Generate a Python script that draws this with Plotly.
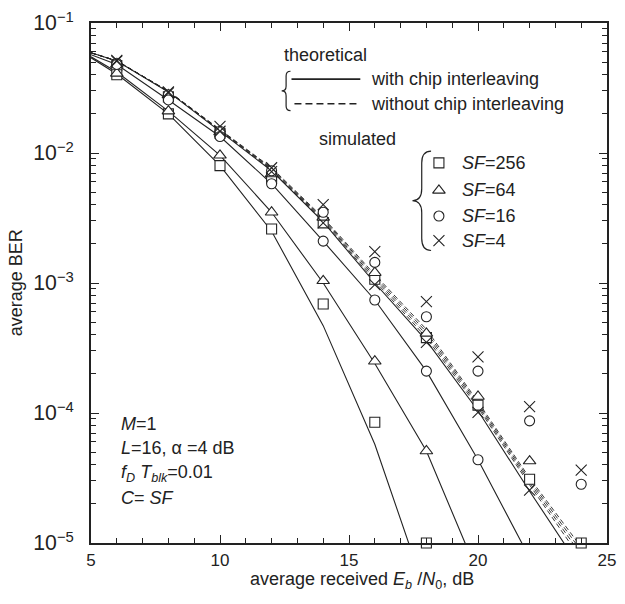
import plotly.graph_objects as go

# ---------------- data ----------------
x_theory = [5, 6, 8, 10, 12, 14, 16, 18, 20, 22, 24]
# theoretical, with chip interleaving (solid)
th_with_sf256 = [0.054, 0.0405, 0.0200, 0.0080, 0.0025, 0.00047, 0.0000575, 0.000004, None, None, None]
th_with_sf64 = [0.055, 0.042, 0.0210, 0.0096, 0.0035, 0.00100, 0.00024, 0.000051, 0.0000058, None, None]
th_with_sf16 = [0.057, 0.048, 0.0256, 0.0134, 0.0058, 0.0021, 0.00074, 0.00021, 0.0000437, 0.0000077, None]
th_with_sf4 = [0.059, 0.051, 0.0295, 0.0147, 0.0073, 0.00295, 0.00100, 0.00036, 0.000104, 0.0000250, 0.0000063]
# theoretical, without chip interleaving (dashed)
th_wo_sf256 = [0.059, 0.051, 0.0296, 0.0148, 0.0074, 0.00300, 0.00104, 0.00038, 0.000110, 0.0000280, 0.0000075]
th_wo_sf64 = [0.059, 0.051, 0.0297, 0.0149, 0.0075, 0.00306, 0.00108, 0.00040, 0.000114, 0.0000292, 0.0000081]
th_wo_sf16 = [0.059, 0.0512, 0.0298, 0.0150, 0.0076, 0.00312, 0.00112, 0.00042, 0.000118, 0.0000304, 0.0000087]
th_wo_sf4 = [0.059, 0.0512, 0.0299, 0.0151, 0.0077, 0.00318, 0.00116, 0.00044, 0.000122, 0.0000316, 0.0000093]

x_sim = [6, 8, 10, 12, 14, 16, 18, 20, 22, 24]
# simulated, with chip interleaving
sim_with_sf256 = [0.040, 0.0200, 0.0080, 0.0026, 0.00069, 0.000085, 0.00001, None, None, None]
sim_with_sf64 = [0.041, 0.0210, 0.0096, 0.0035, 0.00104, 0.00025, 0.000051, None, None, None]
sim_with_sf16 = [0.048, 0.0256, 0.0134, 0.0058, 0.0021, 0.00074, 0.00021, 0.0000437, None, None]
sim_with_sf4 = [0.051, 0.0290, 0.0147, 0.0072, 0.0029, 0.00097, 0.00035, 0.000101, 0.0000255, None]
# simulated, without chip interleaving
sim_wo_sf256 = [0.047, 0.0270, 0.0142, 0.0064, 0.0029, 0.00107, 0.00038, 0.000115, 0.0000309, 0.00001]
sim_wo_sf64 = [0.048, 0.0280, 0.0145, 0.0069, 0.0032, 0.00120, 0.00041, 0.000134, 0.0000427, None]
sim_wo_sf16 = [0.049, 0.0280, 0.0147, 0.0073, 0.0035, 0.00144, 0.00055, 0.00021, 0.000087, 0.0000283]
sim_wo_sf4 = [0.0515, 0.0295, 0.0160, 0.0077, 0.0040, 0.00174, 0.00072, 0.00027, 0.000112, 0.0000363]

sf_labels = ["<i>SF</i>=256", "<i>SF</i>=64", "<i>SF</i>=16", "<i>SF</i>=4"]

# ---------------- layout geometry ----------------
W, H = 625, 604
L, R, T, B = 91, 9, 15, 61
PW, PH = W - L - R, H - T - B
INK = "#222222"
FONT = "Liberation Sans, Arial, Helvetica, sans-serif"
FS = 18
TFS = 17


def px(x):
    return (x - L) / PW


def py(y):
    return (H - B - y) / PH


fig = go.Figure()

solid = [th_with_sf256, th_with_sf64, th_with_sf16, th_with_sf4]
dashed = [th_wo_sf256, th_wo_sf64, th_wo_sf16, th_wo_sf4]
for ys in dashed:
    fig.add_trace(go.Scatter(x=x_theory, y=ys, mode="lines",
                             line=dict(color=INK, width=0.9, dash="5px,3px"),
                             showlegend=False, hoverinfo="skip"))
for ys in solid:
    fig.add_trace(go.Scatter(x=x_theory, y=ys, mode="lines",
                             line=dict(color=INK, width=1.1),
                             showlegend=False, hoverinfo="skip"))

symbols = ["square", "triangle-up", "circle", "x-thin"]
sizes = [10, 11, 10, 11]
sim_sets = [
    (sim_with_sf256, sim_wo_sf256),
    (sim_with_sf64, sim_wo_sf64),
    (sim_with_sf16, sim_wo_sf16),
    (sim_with_sf4, sim_wo_sf4),
]


def mk(sym, size):
    if sym == "x-thin":
        return dict(symbol=sym, size=size, color=INK, line=dict(color=INK, width=1.1))
    return dict(symbol=sym, size=size, color="white", line=dict(color=INK, width=1.1))


for (w, wo), sym, sz in zip(sim_sets, symbols, sizes):
    for ys in (wo, w):
        fig.add_trace(go.Scatter(x=x_sim, y=ys, mode="markers", marker=mk(sym, sz),
                                 cliponaxis=False, showlegend=False, hoverinfo="skip"))

# legend glyphs on an overlay axis in [0,1] paper-like units
leg_x = px(445)
leg_ys = [py(157), py(185), py(211), py(236)]
for sym, sz, yy in zip(symbols, sizes, leg_ys):
    fig.add_trace(go.Scatter(x=[leg_x], y=[yy], mode="markers", marker=mk(sym, sz),
                             xaxis="x2", yaxis="y2", showlegend=False, hoverinfo="skip"))

shapes = []
# legend line samples
shapes.append(dict(type="line", xref="paper", yref="paper", x0=px(295), x1=px(365),
                   y0=py(72), y1=py(72), line=dict(color=INK, width=1.8)))
shapes.append(dict(type="line", xref="paper", yref="paper", x0=px(298), x1=px(365),
                   y0=py(97), y1=py(97), line=dict(color=INK, width=1.6, dash="7px,4px")))


def brace(tipx, endx, top, bot):
    mid = (top + bot) / 2
    hx = (tipx + endx) / 2
    h = bot - top
    pts = [
        f"M {px(endx):.5f},{py(top):.5f}",
        f"Q {px(hx):.5f},{py(top):.5f} {px(hx):.5f},{py(top + h*0.12):.5f}",
        f"L {px(hx):.5f},{py(mid - h*0.12):.5f}",
        f"Q {px(hx):.5f},{py(mid):.5f} {px(tipx):.5f},{py(mid):.5f}",
        f"Q {px(hx):.5f},{py(mid):.5f} {px(hx):.5f},{py(mid + h*0.12):.5f}",
        f"L {px(hx):.5f},{py(bot - h*0.12):.5f}",
        f"Q {px(hx):.5f},{py(bot):.5f} {px(endx):.5f},{py(bot):.5f}",
    ]
    return dict(type="path", xref="paper", yref="paper", path=" ".join(pts),
                line=dict(color=INK, width=1.2))


shapes.append(brace(285, 294, 64, 104))
shapes.append(brace(418, 437, 145, 246))

annotations = []


def txt(text, x, y, size=FS, xanchor="left", **kw):
    annotations.append(dict(text=text, x=px(x), y=py(y), xref="paper", yref="paper",
                            xanchor=xanchor, yanchor="middle", showarrow=False,
                            font=dict(size=size, color=INK, family=FONT), **kw))


txt("theoretical", 285, 47)
txt("with chip interleaving", 374, 72)
txt("without chip interleaving", 374, 97)
txt("simulated", 321, 133)
for lab, yy in zip(sf_labels, [157, 185, 211, 236]):
    txt(lab, 466, yy)

txt("<i>M</i>=1", 119, 422)
txt("<i>L</i>=16, α =4 dB", 119, 447)
txt("<i>f</i><sub><i>D</i></sub> <i>T</i><sub><i>blk</i></sub>=0.01", 119, 472)
txt("<i>C</i>= <i>SF</i>", 119, 497)

# axis titles
txt("average received <i>E</i><sub><i>b</i></sub> /<i>N</i><sub>0</sub>, dB", 367, 581, xanchor="center")
txt("average BER", 15, 279, xanchor="center", textangle=-90)

axis_common = dict(showline=True, linecolor=INK, linewidth=1.5, mirror="allticks",
                   ticks="inside", ticklen=8, tickwidth=1.2, tickcolor=INK,
                   showgrid=False, zeroline=False, ticklabeloverflow="allow",
                   tickfont=dict(size=TFS, color=INK, family=FONT))

fig.update_layout(
    width=W, height=H,
    margin=dict(l=L, r=R, t=T, b=B),
    paper_bgcolor="white", plot_bgcolor="white",
    font=dict(family=FONT, color=INK),
    xaxis=dict(range=[5, 25], tickvals=[5, 10, 15, 20, 25], ticklabelstandoff=1,
               minor=dict(ticks="inside", ticklen=5, tickwidth=1, tickcolor=INK, dtick=1),
               **axis_common),
    yaxis=dict(type="log", range=[-5, -1], dtick=1, exponentformat="power",
               ticklabelstandoff=12,
               minor=dict(ticks="inside", ticklen=5, tickwidth=1, tickcolor=INK, dtick="D1"),
               **axis_common),
    xaxis2=dict(overlaying="x", range=[0, 1], visible=False),
    yaxis2=dict(overlaying="y", range=[0, 1], visible=False),
    shapes=shapes,
    annotations=annotations,
    showlegend=False,
)

fig.write_html("out.html", config={"displayModeBar": False},
               post_script="document.body.style.margin='0';document.body.style.overflow='hidden';")
